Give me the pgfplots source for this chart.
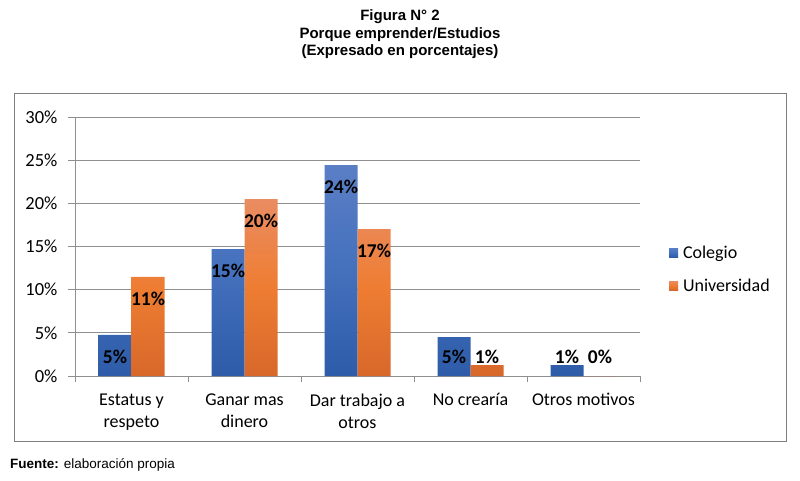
\documentclass[border=0pt]{standalone}
\usepackage{fontspec}
\setmainfont{Carlito}
\newfontfamily\arialfont{Liberation Sans}
\usepackage{pgfplots}
\usepackage{pgfplotstable}
\pgfplotsset{compat=1.18}

\definecolor{bluetop}{HTML}{5B7FC6}
\definecolor{bluemid}{HTML}{4470BC}
\definecolor{bluebot}{HTML}{2E5CA9}
\definecolor{orgtop}{HTML}{EA8C62}
\definecolor{orgmid}{HTML}{EE7D32}
\definecolor{orgbot}{HTML}{D8682A}
\definecolor{gridgray}{HTML}{8F8F8F}
\definecolor{framegray}{HTML}{7F7F7F}

% x: categoria, v: porcentaje, lab: etiqueta redondeada
\pgfplotstableread{
x v lab
0 4.75 5
1 14.7 15
2 24.44 24
3 4.5 5
4 1.27 1
}\colegio
\pgfplotstableread{
x v lab
0 11.47 11
1 20.5 20
2 17.0 17
3 1.27 1
4 0 0
}\universidad

\begin{document}
\begin{tikzpicture}
\path (0pt,0pt) rectangle (800pt,480pt);
\draw[framegray, line width=0.9pt] (14pt,39pt) rectangle (786pt,387pt);
\node[align=center, font=\arialfont\bfseries\fontsize{15}{17.5}\selectfont] at (400pt,445.5pt)
  {Figura N° 2\\Porque emprender/Estudios\\(Expresado en porcentajes)};
\node[anchor=west, inner sep=0pt, font=\arialfont\fontsize{13.5}{16}\selectfont] at (10pt,15pt)
  {\textbf{Fuente:} elaboración propia};
\begin{axis}[
  at={(75pt,104pt)}, anchor=south west,
  scale only axis, width=565pt, height=259pt,
  ybar=0pt, bar width=33pt,
  xmin=-0.5, xmax=4.5, ymin=0, ymax=30,
  axis x line*=bottom, axis y line*=left,
  axis line style={gridgray, line width=0.8pt, -},
  ymajorgrids, grid style={gridgray, line width=0.8pt},
  tick align=outside, major tick length=7pt, minor tick length=6pt,
  tick style={gridgray, line width=0.8pt},
  major x tick style={draw=none},
  xtick={0,1,2,3,4},
  minor xtick={-0.5,0.5,1.5,2.5,3.5,4.5},
  xticklabels={Estatus y\\respeto, Ganar mas\\dinero, Dar trabajo a\\otros, No crearía, Otros motivos},
  xticklabel style={align=center, font=\fontsize{18}{22}\selectfont, yshift=-7pt},
  ytick={0,5,...,30},
  yticklabels={0\%,5\%,10\%,15\%,20\%,25\%,30\%},
  yticklabel style={font=\fontsize{18.5}{20}\selectfont, xshift=-7pt},
  point meta=explicit symbolic,
  nodes near coords={\pgfplotspointmeta\%},
  visualization depends on={\thisrow{v} \as \vv},
  every node near coord/.append style={anchor=center, text=black,
    font=\bfseries\fontsize{19.5}{20}\selectfont,
    yshift={(max(\vv-2.55,2.2)-\vv)*8.6333pt}},
  legend image code/.code={\path[#1] (0pt,-4.5pt) rectangle (9pt,4.5pt);},
  legend style={at={(1.051,0.413)}, anchor=west, draw=none, fill=none,
    inner sep=0pt, row sep=15pt, font=\fontsize{18}{20}\selectfont,
    nodes={inner sep=2pt},
    /tikz/every odd column/.append style={column sep=3pt}},
  legend cell align=left,
]
\addplot[draw=none, top color=bluetop, bottom color=bluebot, middle color=bluemid]
  table[x=x, y=v, meta=lab] {\colegio};
\addplot[draw=none, top color=orgtop, bottom color=orgbot, middle color=orgmid]
  table[x=x, y=v, meta=lab] {\universidad};
\legend{Colegio, Universidad}
\end{axis}
\end{tikzpicture}
\end{document}
